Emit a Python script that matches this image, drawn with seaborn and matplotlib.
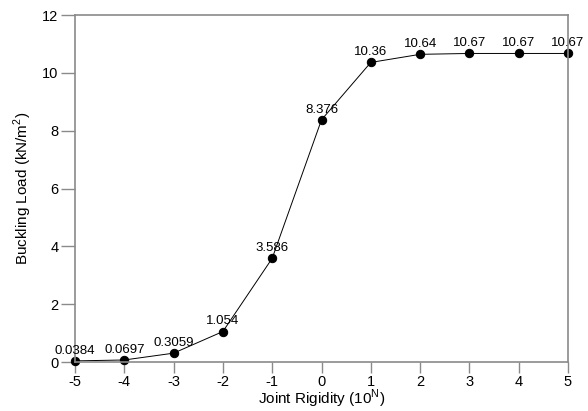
import matplotlib
matplotlib.use("Agg")
import matplotlib.pyplot as plt
import seaborn as sns
import pandas as pd

rigidity = [-5, -4, -3, -2, -1, 0, 1, 2, 3, 4, 5]
load = [0.0384, 0.0697, 0.3059, 1.054, 3.586, 8.376, 10.36, 10.64, 10.67, 10.67, 10.67]
labels = ["0.0384", "0.0697", "0.3059", "1.054", "3.586", "8.376", "10.36", "10.64", "10.67", "10.67", "10.67"]

sns.set_theme(style="white")
plt.rcParams['font.family'] = ['Liberation Sans', 'DejaVu Sans']
plt.rcParams['axes.unicode_minus'] = False
plt.rcParams['mathtext.fontset'] = 'custom'
plt.rcParams['mathtext.rm'] = 'Liberation Sans'

df = pd.DataFrame({"x": rigidity, "y": load})
fig = plt.figure(figsize=(5.88, 4.11), dpi=100)
ax = fig.add_axes([75/588, 1 - 362/411, (568-75)/588, (362-15)/411])
sns.lineplot(data=df, x="x", y="y", ax=ax, color="black", linewidth=0.7,
             marker="o", markersize=6, markeredgecolor="black", markerfacecolor="black",
             clip_on=False)
for xv, yv, t in zip(rigidity, load, labels):
    ax.annotate(t, (xv, yv), xytext=(0, 3), textcoords="offset points",
                ha="center", va="bottom", fontsize=9.5, color="black")
ax.set_xlim(-5, 5)
ax.set_ylim(0, 12)
ax.set_xticks(range(-5, 6))
ax.set_yticks(range(0, 13, 2))
for s in ax.spines.values():
    s.set_color("#8a8a8a")
    s.set_linewidth(1.2)
ax.tick_params(axis="both", direction="out", length=10, width=1, color="#8a8a8a",
               labelsize=10.5, labelcolor="black", bottom=True, left=True, pad=2)
ax.tick_params(axis="x", length=8, pad=1)
ax.set_xlabel("Joint Rigidity (10$^{\\mathrm{N}}$)", fontsize=11, color="black")
ax.xaxis.label.set_va("center")
ax.xaxis.set_label_coords(0.5, (362 - 399) / 347)
ax.set_ylabel("Buckling Load (kN/m$^{2}$)", fontsize=11, color="black", labelpad=6)
fig.savefig("out.png", dpi=100)
